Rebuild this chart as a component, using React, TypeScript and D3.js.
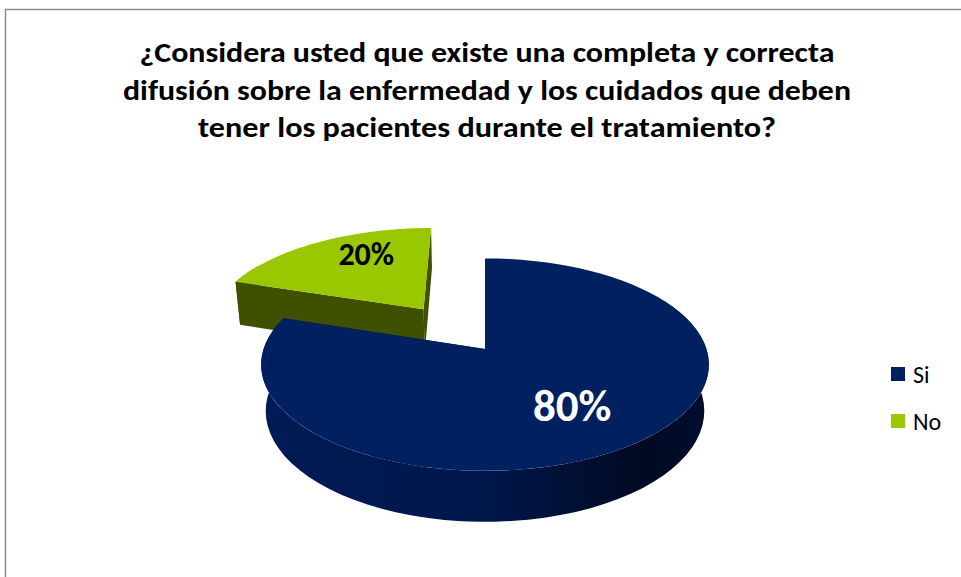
import * as d3 from "d3";

const categories = ["Si", "No"];
const values = [80, 20];
const valueLabels = ["80%", "20%"];
const titleLines = [
  "¿Considera usted que existe una completa y correcta",
  "difusión sobre la enfermedad y los cuidados que deben",
  "tener los pacientes durante el tratamiento?",
];
// measured line widths of the original title block
const titleWidths = [695, 728, 578];

const W = 961;
const H = 577;

const topColors = ["#002060", "#99C800"];
const cutColors = ["#001440", "#3f5000"];
const explode = [0, 0.5];
// where Excel drops the value label: radius + small angle shift
const labelR = [0.62, 0.72];
const labelShift = [0, 0.16];
const labelColors = ["#ffffff", "#000000"];
const labelSizes = [45, 32];

// fake 3D camera
const TILT = (30 * Math.PI) / 180;
const DIST = 6;
const THICK = 0.24;
const FOCAL = 1302;
const CX = 485;
const CY = 395;

function project(x: number, y: number, z: number): [number, number] {
  const v = y * Math.cos(TILT) - z * Math.sin(TILT);
  const d = DIST - (y * Math.sin(TILT) + z * Math.cos(TILT));
  return [CX + (FOCAL * x) / d, CY - (FOCAL * v) / d];
}

const FONT = "Carlito, Calibri, Lato, 'Open Sans', sans-serif";

export default function App() {
  const arcs = d3.pie<number>().sort(null)(values);
  const line = d3.line();

  const slices = arcs.map((a, i) => {
    const mid = (a.startAngle + a.endAngle) / 2;
    const ox = explode[i] * Math.sin(mid);
    const oz = -explode[i] * Math.cos(mid);
    const rim = (t: number, y: number) =>
      project(ox + Math.sin(t), y, oz - Math.cos(t));
    const steps = d3.range(0, 81).map(
      (k) => a.startAngle + ((a.endAngle - a.startAngle) * k) / 80
    );
    const vTop = project(ox, THICK, oz);
    const vBot = project(ox, 0, oz);

    const top = line([vTop, ...steps.map((t) => rim(t, THICK))]) + "Z";

    // outer wall, only the part that can face the camera
    const lo = Math.max(a.startAngle, Math.PI / 3);
    const hi = Math.min(a.endAngle, (5 * Math.PI) / 3);
    let side: string | null = null;
    if (hi > lo) {
      const ts = d3.range(0, 61).map((k) => lo + ((hi - lo) * k) / 60);
      side =
        line([
          ...ts.map((t) => rim(t, THICK)),
          ...ts.slice().reverse().map((t) => rim(t, 0)),
        ]) + "Z";
    }

    const cuts = [a.startAngle, a.endAngle].map(
      (t) => line([vTop, rim(t, THICK), rim(t, 0), vBot]) + "Z"
    );

    const lt = mid + labelShift[i];
    const lr = labelR[i];
    const labelPos = project(
      ox + lr * Math.sin(lt),
      THICK,
      oz - lr * Math.cos(lt)
    );

    return { i, top, side, cuts, labelPos };
  });

  // paint back slice (No) first, then the big one in front
  const order = [1, 0];

  return (
    <svg
      width={W}
      height={H}
      style={{ position: "absolute", left: 0, top: 0, background: "#fff" }}
    >
      <defs>
        <linearGradient
          id="sideBlue"
          gradientUnits="userSpaceOnUse"
          x1={264}
          x2={710}
          y1={0}
          y2={0}
        >
          <stop offset="0" stopColor="#001a55" />
          <stop offset="0.5" stopColor="#00174a" />
          <stop offset="0.85" stopColor="#000a22" />
          <stop offset="1" stopColor="#000d2e" />
        </linearGradient>
        <linearGradient
          id="sideGreen"
          gradientUnits="userSpaceOnUse"
          x1={230}
          x2={440}
          y1={0}
          y2={0}
        >
          <stop offset="0" stopColor="#455400" />
          <stop offset="1" stopColor="#3d4b00" />
        </linearGradient>
      </defs>

      <rect
        x={5.5}
        y={9.5}
        width={1000}
        height={1000}
        fill="#fff"
        stroke="#8a8a8a"
        strokeWidth={1.5}
      />

      {titleLines.map((t, k) => (
        <text
          key={k}
          x={487}
          y={62 + k * 37.5}
          textAnchor="middle"
          fontFamily={FONT}
          fontWeight={700}
          fontSize={29}
          textLength={titleWidths[k]}
          lengthAdjust="spacingAndGlyphs"
          fill="#000"
        >
          {t}
        </text>
      ))}

      {order.map((idx) => {
        const s = slices[idx];
        return (
          <g key={idx}>
            {s.side && (
              <path
                d={s.side}
                fill={idx === 0 ? "url(#sideBlue)" : "url(#sideGreen)"}
              />
            )}
            {s.cuts.map((c, k) => (
              <path key={k} d={c} fill={cutColors[idx]} />
            ))}
            <path d={s.top} fill={topColors[idx]} />
          </g>
        );
      })}

      {order.map((idx) => {
        const s = slices[idx];
        return (
          <text
            key={"l" + idx}
            x={s.labelPos[0]}
            y={s.labelPos[1]}
            textAnchor="middle"
            dominantBaseline="central"
            fontFamily={FONT}
            fontWeight={700}
            fontSize={labelSizes[idx]}
            fill={labelColors[idx]}
          >
            {valueLabels[idx]}
          </text>
        );
      })}

      <g transform="translate(891,367)">
        {categories.map((c, k) => (
          <g key={c} transform={`translate(0,${k * 47})`}>
            <rect width={14} height={14} fill={topColors[k]} />
            <text
              x={22}
              y={7}
              dominantBaseline="central"
              fontFamily={FONT}
              fontSize={24}
              fill="#000"
            >
              {c}
            </text>
          </g>
        ))}
      </g>
    </svg>
  );
}
